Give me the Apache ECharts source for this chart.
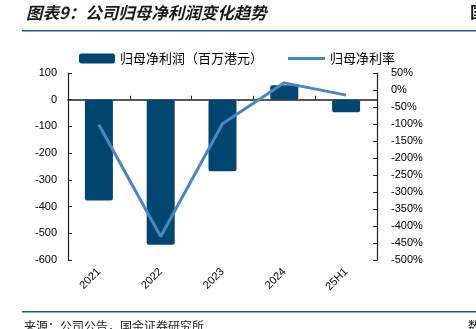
<!DOCTYPE html>
<html><head><meta charset="utf-8">
<script src="https://cdn.jsdelivr.net/npm/echarts@6/dist/echarts.min.js"></script>
<style>html,body{margin:0;padding:0;background:#fff}#c{width:476px;height:329px}</style>
</head><body><div id="c"></div>
<script>
var categories = ['2021','2022','2023','2024','25H1'];
var profit = [-377, -543, -268, 54, -47];
var margin = [-102, -431, -99, 21, -15];
var leftTicks = {min:-600, max:100, interval:100};
var rightTicks = {min:-500, max:50, interval:50};
var barName = '归母净利润（百万港元）';
var lineName = '归母净利率';

var chart = echarts.init(document.getElementById('c'), null, {renderer:'canvas'});
var axisColor = '#222';
var lblFont = {fontFamily:'Liberation Sans, Arial', fontSize:11, color:'#000'};
var legText = {fontFamily:'Noto Sans CJK SC', fontSize:13, color:'#000'};
chart.setOption({
  animation:false,
  textStyle:{fontFamily:'Liberation Sans, Arial'},
  grid:{left:68, right:99, top:73, bottom:69, containLabel:false},
  legend:[
    {left:74, top:47, itemWidth:36, itemHeight:10, itemGap:10,
     textStyle:legText, data:[{name:barName, icon:'roundRect'}]},
    {left:283, top:47, itemWidth:37, itemHeight:3, itemGap:10, icon:'rect',
     textStyle:legText, data:[{name:lineName, icon:'rect'}]}
  ],
  graphic:[
    {type:'text', left:26, top:4, style:{text:'图表9：公司归母净利润变化趋势', fontFamily:'Noto Sans CJK SC', fontSize:16.5, fontWeight:'bold', fontStyle:'italic', fill:'#1a1a1a'}},
    {type:'text', left:470, top:4, style:{text:'国', fontFamily:'Noto Sans CJK SC', fontSize:16, fontWeight:'bold', fill:'#1a1a1a'}},
    {type:'rect', left:22, top:30, shape:{width:454, height:1.5}, style:{fill:'#1f5b8c'}},
    {type:'rect', left:22, top:311, shape:{width:454, height:1.5}, style:{fill:'#1f5b8c'}},
    {type:'text', left:24, top:320, style:{text:'来源：公司公告，国金证券研究所', fontFamily:'Noto Sans CJK SC', fontSize:12, fill:'#1a1a1a'}},
    {type:'text', left:468, top:320, style:{text:'数', fontFamily:'Noto Sans CJK SC', fontSize:12, fill:'#1a1a1a'}}
  ],
  xAxis:[
    {type:'category', data:categories,
     axisLine:{show:true, onZero:true, lineStyle:{color:axisColor, width:1.5}},
     axisTick:{show:true, inside:true, length:4, lineStyle:{color:axisColor}},
     axisLabel:Object.assign({rotate:45, margin:10, interval:0}, lblFont)}
  ],
  yAxis:[
    {type:'value', min:leftTicks.min, max:leftTicks.max, interval:leftTicks.interval, position:'left',
     axisLine:{show:true, lineStyle:{color:axisColor, width:1.2}},
     axisTick:{show:true, inside:true, length:4, lineStyle:{color:axisColor}},
     splitLine:{show:false},
     axisLabel:Object.assign({margin:11}, lblFont)},
    {type:'value', min:rightTicks.min, max:rightTicks.max, interval:rightTicks.interval, position:'right',
     axisLine:{show:true, lineStyle:{color:axisColor, width:1.2}},
     axisTick:{show:true, inside:true, length:4, lineStyle:{color:axisColor}},
     splitLine:{show:false},
     axisLabel:Object.assign({margin:14, formatter:'{value}%'}, lblFont)}
  ],
  series:[
    {name:barName, type:'bar', data:profit, yAxisIndex:0, barWidth:28,
     itemStyle:{color:'#00466e', borderRadius:2}},
    {name:lineName, type:'line', data:margin, yAxisIndex:1, symbol:'none',
     lineStyle:{color:'#4a86c6', width:3}, itemStyle:{color:'#4a86c6'}}
  ]
});
</script></body></html>
